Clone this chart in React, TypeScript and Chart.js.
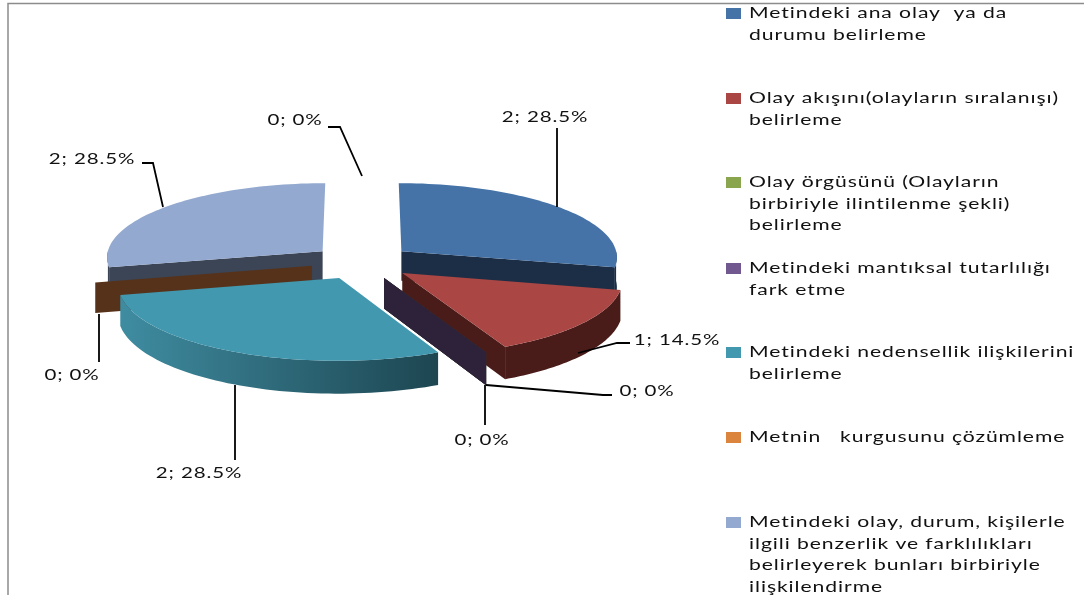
import React, { useEffect, useRef } from "react";
import { Chart, registerables } from "chart.js";

Chart.register(...registerables);

// Response categories shown in the key; the ring also carries one unnamed empty entry at the end.
const categories: string[][] = [
  ["Metindeki ana olay  ya da", "durumu belirleme"],
  ["Olay akışını(olayların sıralanışı)", "belirleme"],
  ["Olay örgüsünü (Olayların", "birbiriyle ilintilenme şekli)", "belirleme"],
  ["Metindeki mantıksal tutarlılığı", "fark etme"],
  ["Metindeki nedensellik ilişkilerini", "belirleme"],
  ["Metnin   kurgusunu çözümleme"],
  ["Metindeki olay, durum, kişilerle", "ilgili benzerlik ve farklılıkları", "belirleyerek bunları birbiriyle", "ilişkilendirme"],
];
const counts = [2, 1, 0, 0, 2, 0, 2, 0];
const shares = [28.5, 14.5, 0, 0, 28.5, 0, 28.5, 0];

const topColors = ["#4572A7", "#AA4643", "#89A54E", "#71588F", "#4198AF", "#DB843D", "#93A9CF", "rgba(255,255,255,0)"];
const wallColors = ["#1B2E46", "#4A1C19", "#39452A", "#2D2239", "#1D4651", "#57321A", "#3B4556", "rgba(255,255,255,0)"];
const rimLeftColors = ["#1B2E46", "#4A1C19", "#39452A", "#2D2239", "#3F8CA1", "#57321A", "#3B4556", "rgba(255,255,255,0)"];

// Label anchor and leader polyline for each entry of the ring.
const labelCenters = [[545, 117], [677, 340], [647, 391], [482, 440], [199, 473], [72, 375], [92, 159], [295, 120]];
const leaderPaths = [
  [[557, 128], [557, 207]],
  [[630, 343], [617, 343], [578, 353]],
  [[612, 395], [603, 395], [486, 385]],
  [[485, 425], [485, 385]],
  [[235, 460], [235, 385]],
  [[99, 362], [99, 314]],
  [[142, 163], [153, 163], [163, 207]],
  [[328, 127], [340, 127], [362, 176]],
];
const keyRowTops = [13, 98, 182, 268, 352, 437, 522];

const RADIUS = 217;
const EXPLODE = 51;
const TILT = 0.343;
const VIEW_DIST = 3000;
const DEPTH = 30;
const TEXT_FONT = '16px Lato';
const LABEL_STRETCH = 1.28;
const KEY_STRETCH = 1.32;

type Pt = [number, number];

const exploded3d = {
  id: "exploded3d",
  beforeDatasetDraw(chart: any) {
    const ctx: CanvasRenderingContext2D = chart.ctx;
    const arcs = chart.getDatasetMeta(0).data;

    const slices = arcs.map((arc: any, index: number) => {
      const { x, y, startAngle, endAngle, outerRadius } = arc.getProps(["x", "y", "startAngle", "endAngle", "outerRadius"], true);
      const a = startAngle + Math.PI / 2;
      const b = endAngle + Math.PI / 2;
      const mid = (a + b) / 2;
      const du = Math.sin(mid) * EXPLODE;
      const dv = -Math.cos(mid) * EXPLODE;
      const project = (u: number, v: number, z: number): Pt => {
        const k = 1 / (1 - v / VIEW_DIST);
        return [x + u * k, y + v * TILT * k + z * k];
      };
      const rimPoint = (t: number, z: number): Pt =>
        project(du + Math.sin(t) * outerRadius, dv - Math.cos(t) * outerRadius, z);
      return { index, a, b, dv, du, project, rimPoint };
    });

    const fillPoly = (pts: Pt[], fill: string | CanvasGradient) => {
      ctx.beginPath();
      pts.forEach((p, i) => (i ? ctx.lineTo(p[0], p[1]) : ctx.moveTo(p[0], p[1])));
      ctx.closePath();
      ctx.fillStyle = fill;
      ctx.fill();
    };

    // Paint from the back of the tilted disc towards the viewer.
    const ordered = [...slices].sort((p: any, q: any) => p.dv - q.dv || p.index - q.index);
    for (const s of ordered) {
      const apexTop = s.project(s.du, s.dv, 0);
      const apexBase = s.project(s.du, s.dv, DEPTH);
      const wall = wallColors[s.index];

      if (-Math.sin(s.a) > 0 || s.a === s.b) {
        fillPoly([apexTop, s.rimPoint(s.a, 0), s.rimPoint(s.a, DEPTH), apexBase], wall);
      }
      if (Math.sin(s.b) > 0) {
        fillPoly([apexTop, s.rimPoint(s.b, 0), s.rimPoint(s.b, DEPTH), apexBase], wall);
      }

      const from = Math.max(s.a, Math.PI / 2);
      const to = Math.min(s.b, (3 * Math.PI) / 2);
      if (to > from) {
        const upper: Pt[] = [];
        const lower: Pt[] = [];
        for (let i = 0; i <= 60; i++) {
          const t = from + ((to - from) * i) / 60;
          upper.push(s.rimPoint(t, 0));
          lower.unshift(s.rimPoint(t, DEPTH));
        }
        const xs = upper.map((p) => p[0]);
        const shade = ctx.createLinearGradient(Math.min(...xs), 0, Math.max(...xs), 0);
        shade.addColorStop(0, rimLeftColors[s.index]);
        shade.addColorStop(1, wall);
        fillPoly([...upper, ...lower], shade);
      }

      if (s.b > s.a) {
        const face: Pt[] = [apexTop];
        for (let i = 0; i <= 60; i++) face.push(s.rimPoint(s.a + ((s.b - s.a) * i) / 60, 0));
        fillPoly(face, topColors[s.index]);
      }
    }
    return false;
  },
  afterDraw(chart: any) {
    const ctx: CanvasRenderingContext2D = chart.ctx;
    ctx.save();

    // Outer frame along the top and left edges.
    ctx.strokeStyle = "#8C8C8C";
    ctx.lineWidth = 1.5;
    ctx.beginPath();
    ctx.moveTo(8, 595);
    ctx.lineTo(8, 3.5);
    ctx.lineTo(1084, 3.5);
    ctx.stroke();

    // Leader lines and value labels.
    ctx.strokeStyle = "#000000";
    ctx.lineWidth = 1.8;
    for (const path of leaderPaths) {
      ctx.beginPath();
      path.forEach((p, i) => (i ? ctx.lineTo(p[0], p[1]) : ctx.moveTo(p[0], p[1])));
      ctx.stroke();
    }

    // Text is set wide, so each run is drawn in a horizontally stretched space.
    const stretched = (text: string, x: number, y: number, sx: number) => {
      ctx.save();
      ctx.translate(x, y);
      ctx.scale(sx, 1);
      ctx.fillText(text, 0, 0);
      ctx.restore();
    };

    ctx.font = TEXT_FONT;
    (ctx as any).letterSpacing = "0.7px";
    ctx.fillStyle = "#111111";
    ctx.textAlign = "center";
    ctx.textBaseline = "middle";
    counts.forEach((count, i) => {
      stretched(`${count}; ${shares[i]}%`, labelCenters[i][0], labelCenters[i][1], LABEL_STRETCH);
    });

    // Key on the right.
    ctx.textAlign = "left";
    categories.forEach((lines, i) => {
      ctx.fillStyle = topColors[i];
      ctx.fillRect(726, keyRowTops[i] - 5, 15, 11);
      ctx.fillStyle = "#111111";
      lines.forEach((line, j) => stretched(line, 749, keyRowTops[i] + j * 21.5, KEY_STRETCH));
    });
    ctx.restore();
  },
};

export default function App() {
  const ref = useRef<HTMLCanvasElement>(null);
  useEffect(() => {
    const chart = new Chart(ref.current!, {
      type: "pie",
      data: {
        labels: [...categories.map((c) => c.join(" ")), ""],
        datasets: [{ data: shares, backgroundColor: topColors, borderWidth: 0 }],
      },
      options: {
        animation: false,
        responsive: false,
        radius: RADIUS,
        layout: { padding: { left: 0, right: 360, top: 0, bottom: 71 } },
        plugins: { legend: { display: false }, tooltip: { enabled: false } },
      } as any,
      plugins: [exploded3d as any],
    });
    return () => chart.destroy();
  }, []);
  return (
    <div style={{ position: "fixed", left: 0, top: 0, width: 1084, height: 595, background: "#ffffff", overflow: "hidden" }}>
      <canvas ref={ref} width={1084} height={595} style={{ display: "block" }} />
    </div>
  );
}
